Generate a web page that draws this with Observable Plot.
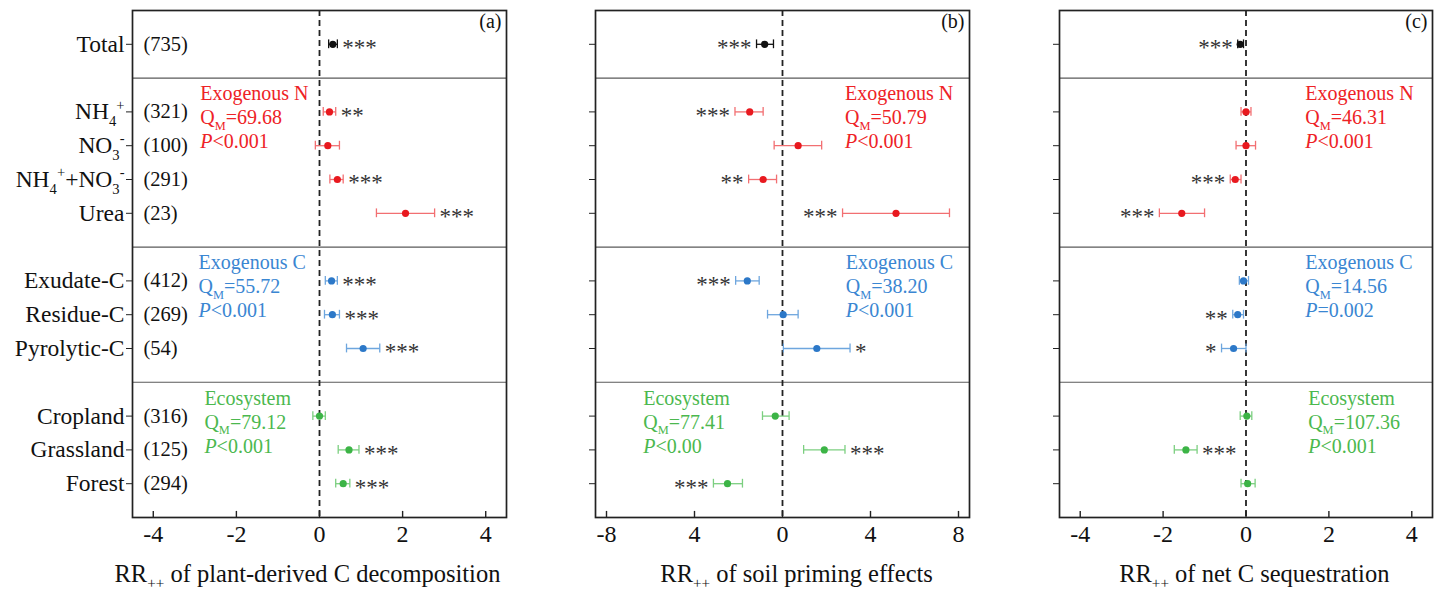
<!DOCTYPE html>
<html><head><meta charset="utf-8">
<script src="https://cdn.jsdelivr.net/npm/d3@7"></script>
<script src="https://cdn.jsdelivr.net/npm/@observablehq/plot@0.6"></script>
<style>
html,body{margin:0;padding:0;background:#fff;}
#chart{position:relative;width:1444px;height:592px;overflow:hidden;}
#chart svg{position:absolute;top:0;}
</style></head><body><div id="chart"></div>
<script>
// ---------- data ----------
const categories = ["Total","NH_{4}^{+}","NO_{3}^{-}","NH_{4}^{+}+NO_{3}^{-}","Urea","Exudate-C","Residue-C","Pyrolytic-C","Cropland","Grassland","Forest"];
const counts = [735,321,100,291,23,412,269,54,316,125,294];
const groups = ["T","N","N","N","N","C","C","C","E","E","E"];
const groupNames = ["Exogenous N","Exogenous C","Ecosystem"];

const decompMean = [0.32,0.24,0.20,0.43,2.07,0.29,0.31,1.05,0.00,0.71,0.57];
const decompLow  = [0.22,0.09,-0.10,0.25,1.37,0.14,0.12,0.65,-0.16,0.45,0.39];
const decompHigh = [0.43,0.39,0.48,0.57,2.77,0.43,0.48,1.45,0.14,0.95,0.73];
const decompSig  = ["***","**","","***","***","***","***","***","","***","***"];
const decompSide = ["R","R","R","R","R","R","R","R","R","R","R"];
const decompQM = ["69.68","55.72","79.12"];
const decompP  = ["<0.001","<0.001","<0.001"];

const primingMean = [-0.81,-1.49,0.71,-0.88,5.16,-1.60,0.03,1.56,-0.33,1.90,-2.50];
const primingLow  = [-1.18,-2.16,-0.38,-1.54,2.73,-2.13,-0.68,0.04,-0.91,0.96,-3.14];
const primingHigh = [-0.41,-0.88,1.78,-0.27,7.59,-1.06,0.71,3.07,0.30,2.84,-1.82];
const primingSig  = ["***","***","","**","***","***","","*","","***","***"];
const primingSide = ["L","L","R","L","L","L","R","R","R","R","L"];
const primingQM = ["50.79","38.20","77.41"];
const primingP  = ["<0.001","<0.001","<0.00"];

const netMean = [-0.14,0.00,0.00,-0.26,-1.55,-0.06,-0.20,-0.30,0.02,-1.45,0.04];
const netLow  = [-0.20,-0.12,-0.24,-0.38,-2.09,-0.16,-0.32,-0.59,-0.14,-1.73,-0.12];
const netHigh = [-0.06,0.12,0.23,-0.12,-1.00,0.06,-0.06,0.00,0.14,-1.18,0.22];
const netSig  = ["***","","","***","***","","**","*","","***",""];
const netSide = ["L","R","R","L","L","R","L","L","R","R","R"];
const netQM = ["46.31","14.56","107.36"];
const netP  = ["<0.001","=0.002","<0.001"];

const ticksAC = [-4,-2,0,2,4];
const tickLabelsAC = ["-4","-2","0","2","4"];
const ticksB = [-8,-4,0,4,8];
const tickLabelsB = ["-8","4","0","4","8"];

const titleA = "RR_{++} of plant-derived C decomposition";
const titleB = "RR_{++} of soil priming effects";
const titleC = "RR_{++} of net C sequestration";

// ---------- styling ----------
const FONT = "'Liberation Serif','Times New Roman',serif";
const dotColor  = {T:"#111111", N:"#e8191f", C:"#2c78c8", E:"#3cb446"};
const barColor  = {T:"#111111", N:"#f26f72", C:"#6ea6de", E:"#7ccf80"};
const textColor = {N:"#ee2226", C:"#3a86d2", E:"#4bb84e"};
const groupKeys = ["N","C","E"];

// row positions derived from group order (gap between groups)
let gapCount = 0;
const pos = groups.map((g,i) => { if (i>0 && g!==groups[i-1]) gapCount++; return i + 1 + gapCount; });
const seps = groups.map((g,i) => (i>0 && g!==groups[i-1]) ? pos[i]-1 : null).filter(v => v!==null);
const labelAt = new Map(pos.map((p,i)=>[p, categories[i]]));

function rich(el){
  const s = el.textContent;
  if (!/[_^~]\{/.test(s)) return;
  const fs = parseFloat(getComputedStyle(el).fontSize) || 20;
  while (el.firstChild) el.removeChild(el.firstChild);
  const re = /([_^~])\{([^}]*)\}/g;
  let last = 0, cur = 0, m;
  const add = (txt, kind) => {
    if (!txt) return;
    const t = document.createElementNS("http://www.w3.org/2000/svg","tspan");
    let off = 0;
    if (kind === "_") { off = 0.28*fs; t.setAttribute("font-size", (0.62*fs).toFixed(1)); }
    else if (kind === "^") { off = -0.42*fs; t.setAttribute("font-size", (0.62*fs).toFixed(1)); }
    else if (kind === "~") { t.setAttribute("font-style","italic"); }
    if (off !== cur) t.setAttribute("dy", (off-cur).toFixed(2));
    cur = off;
    t.textContent = txt;
    el.appendChild(t);
  };
  while ((m = re.exec(s))) { add(s.slice(last, m.index), ""); add(m[2], m[1]); last = re.lastIndex; }
  add(s.slice(last), "");
}

const panels = [
  {id:"a", left:0, width:510, marginLeft:132, marginRight:4, domain:[-4.5,4.5], ticks:ticksAC, tickLabels:tickLabelsAC,
   mean:decompMean, lo:decompLow, hi:decompHigh, sig:decompSig, side:decompSide, qm:decompQM, p:decompP,
   title:titleA, titleX:-0.29, annX:[-2.87,-2.91,-2.77], showLabels:true},
  {id:"b", left:560, width:429, marginLeft:35, marginRight:20, domain:[-8.5,8.5], ticks:ticksB, tickLabels:tickLabelsB,
   mean:primingMean, lo:primingLow, hi:primingHigh, sig:primingSig, side:primingSide, qm:primingQM, p:primingP,
   title:titleB, titleX:0.64, annX:[2.84,2.88,-6.33], showLabels:false},
  {id:"c", left:1025, width:418, marginLeft:34, marginRight:11, domain:[-4.5,4.5], ticks:ticksAC, tickLabels:tickLabelsAC,
   mean:netMean, lo:netLow, hi:netHigh, sig:netSig, side:netSide, qm:netQM, p:netP,
   title:titleC, titleX:0.2, annX:[1.43,1.43,1.5], showLabels:false}
];

const chart = document.getElementById("chart");
const yMax = 15;

for (const P of panels) {
  const rows = categories.map((c,i) => ({label:c, n:counts[i], g:groups[i], pos:pos[i],
    mean:P.mean[i], lo:P.lo[i], hi:P.hi[i], sig:P.sig[i], side:P.side[i]}));
  const ann = [];
  groupKeys.forEach((k,j) => {
    const base = seps[j] + 0.66;
    [groupNames[j], "Q_{M}=" + P.qm[j], "~{P}" + P.p[j]].forEach((t,l) => {
      ann.push({x:P.annX[j], y: base + l*0.71, t, color:textColor[k]});
    });
  });
  const marks = [
    Plot.ruleY(seps, {stroke:"#5a5a5a", strokeWidth:1.1}),
    Plot.ruleX([0], {stroke:"#222", strokeWidth:1.8, strokeDasharray:"6,4"}),
    Plot.link(rows, {x1:"lo", x2:"hi", y1:"pos", y2:"pos", stroke:d=>barColor[d.g], strokeWidth:1.3}),
    Plot.ruleX(rows, {x:"lo", y1:d=>d.pos-0.13, y2:d=>d.pos+0.13, stroke:d=>barColor[d.g], strokeWidth:1.3}),
    Plot.ruleX(rows, {x:"hi", y1:d=>d.pos-0.13, y2:d=>d.pos+0.13, stroke:d=>barColor[d.g], strokeWidth:1.3}),
    Plot.dot(rows, {x:"mean", y:"pos", r:3.6, fill:d=>dotColor[d.g], stroke:null}),
    Plot.text(rows.filter(d=>d.sig && d.side==="R"), {x:"hi", y:"pos", text:"sig", textAnchor:"start", dx:5, dy:3.5, fontSize:23, fill:"#333"}),
    Plot.text(rows.filter(d=>d.sig && d.side==="L"), {x:"lo", y:"pos", text:"sig", textAnchor:"end", dx:-5, dy:3.5, fontSize:23, fill:"#333"}),
    Plot.text(ann, {x:"x", y:"y", text:"t", fill:"color", textAnchor:"start", lineAnchor:"bottom", fontSize:20}),
    Plot.text([`(${P.id})`], {frameAnchor:"top-right", dx:-5, dy:17, lineAnchor:"bottom", fontSize:20, fill:"#111"}),
    Plot.ruleX(P.ticks, {y1:yMax, y2:yMax-0.18, stroke:"#222", strokeWidth:1.4}),
    Plot.axisX({ticks:P.ticks, tickSize:0, tickPadding:7, tickFormat:d=>P.tickLabels[P.ticks.indexOf(d)], fontSize:24, label:null, fill:"#111"}),
    Plot.axisY(pos, {tickSize:6, tickPadding:2, tickFormat: P.showLabels ? (d=>labelAt.get(d)) : (()=>""), fontSize:23.5, label:null, fill:"#111", stroke:"#222"}),
    Plot.text([{x:P.titleX, t:P.title}], {x:"x", text:"t", frameAnchor:"bottom", dy:64, lineAnchor:"bottom", fontSize:24.5, fill:"#111"}),
    Plot.frame({stroke:"#222", strokeWidth:1.7})
  ];
  if (P.showLabels) {
    marks.push(Plot.text(rows, {y:"pos", text:d=>`(${d.n})`, frameAnchor:"left", dx:11, textAnchor:"start", fontSize:20.5, fill:"#111"}));
  }
  const svg = Plot.plot({
    width:P.width, height:592,
    marginLeft:P.marginLeft, marginRight:P.marginRight, marginTop:10, marginBottom:75,
    x:{domain:P.domain, label:null},
    y:{domain:[0,yMax], reverse:true, label:null},
    color:{type:"identity"},
    style:{fontFamily:FONT, fontSize:"20px", background:"transparent", overflow:"visible"},
    marks
  });
  svg.style.left = P.left + "px";
  chart.appendChild(svg);
  d3.select(svg).selectAll("text").each(function(){ rich(this); });
}
</script>
</body></html>
